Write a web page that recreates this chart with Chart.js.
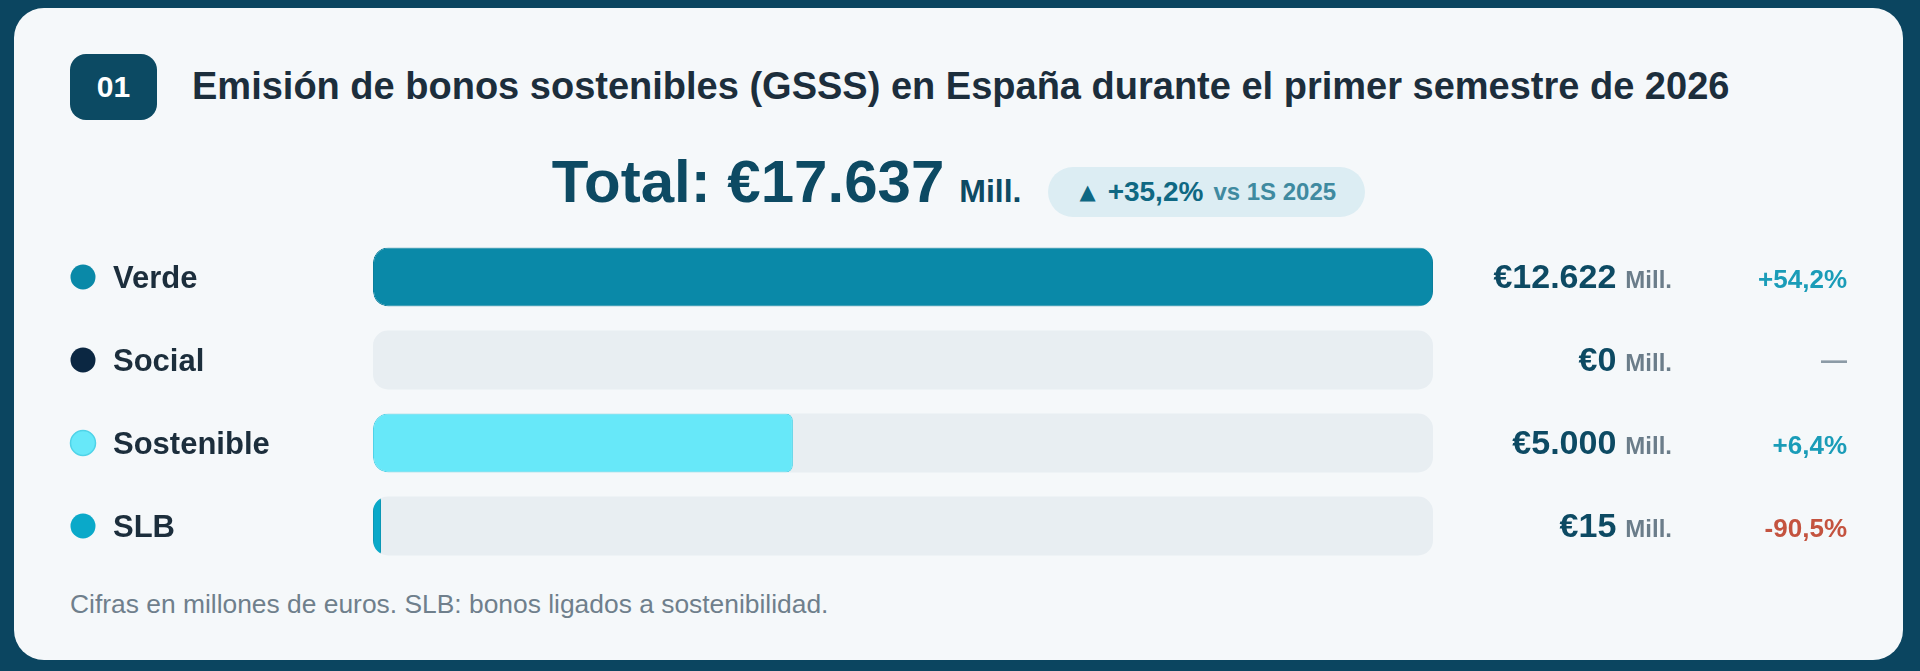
<!DOCTYPE html>
<html lang="es">
<head>
<meta charset="utf-8">
<title>Emisión de bonos sostenibles (GSSS)</title>
<script src="https://cdn.jsdelivr.net/npm/chart.js@4.4.1/dist/chart.umd.min.js"></script>
<style>
  html, body { margin: 0; padding: 0; }
  body {
    width: 1920px; height: 671px; overflow: hidden; position: relative;
    background: #0b4560;
    font-family: "Liberation Sans", Arial, sans-serif;
  }
  .card {
    position: absolute; left: 14px; top: 8px; width: 1889px; height: 652px;
    background: #f5f8fa; border-radius: 30px;
  }
  .badge {
    position: absolute; left: 70px; top: 54px; width: 87px; height: 66px;
    background: #0c4a63; border-radius: 16px; color: #fff;
    font-weight: bold; font-size: 30px; line-height: 66px; text-align: center;
  }
  .title {
    position: absolute; left: 192px; top: 63px; line-height: 46px;
    font-size: 38px; font-weight: bold; color: #1c2e3c; white-space: nowrap;
  }
  .totalRow {
    position: absolute; left: 14px; top: 150px; width: 1889px;
    display: flex; justify-content: center; align-items: baseline;
  }
  .total { font-size: 60px; line-height: 64px; font-weight: bold; color: #0d4a63; }
  .total small { font-size: 32px; margin-left: 15px; }
  .pill {
    display: inline-flex; align-items: center; height: 50px; margin-left: 27px;
    padding: 0 29px 0 31px; border-radius: 25px; background: #dcedf3;
    font-weight: bold; color: #0f6883; position: relative; top: -3px;
  }
  .pill .tri { font-size: 21px; line-height: 32px; margin-right: 12px; font-family: "DejaVu Sans", sans-serif; }
  .pill .pct { font-size: 28px; line-height: 32px; }
  .pill .vs { font-size: 24px; line-height: 32px; margin-left: 10px; color: #3f8aa0; }
  .note {
    position: absolute; left: 70px; top: 589px; font-size: 26.4px; line-height: 30px;
    color: #6f7f8c; white-space: nowrap;
  }
  #rows { position: absolute; left: 0; top: 0; }
</style>
</head>
<body>
<div class="card"></div>
<div class="badge">01</div>
<div class="title">Emisión de bonos sostenibles (GSSS) en España durante el primer semestre de 2026</div>
<div class="totalRow">
  <span class="total" id="totalText"></span>
  <span class="pill"><span class="tri">▲</span><span class="pct" id="totalChange"></span><span class="vs" id="vsLabel"></span></span>
</div>
<div class="note">Cifras en millones de euros. SLB: bonos ligados a sostenibilidad.</div>
<canvas id="rows" width="1920" height="671"></canvas>

<script>
const categories = ["Verde", "Social", "Sostenible", "SLB"];
const values = [12622, 0, 5000, 15];          // millones de euros
const changes = [54.2, null, 6.4, -90.5];      // % vs 1S 2025
const totalChange = 35.2;
const compareLabel = "vs 1S 2025";
const unit = "Mill.";
const colors = ["#0a89a8", "#0b2742", "#67e8f9", "#0aa9c9"];
const borders = ["#0a7f9c", "#0b2742", "#4fd3e8", "#0a97b5"];

function fmtNum(n) {
  return String(n).replace(/\B(?=(\d{3})+(?!\d))/g, ".");
}
function fmtPct(v) {
  if (v === null) return "—";
  return (v > 0 ? "+" : "") + v.toFixed(1).replace(".", ",") + "%";
}

const total = values.reduce((a, b) => a + b, 0);
document.getElementById("totalText").innerHTML = "Total: €" + fmtNum(total) + "<small>" + unit + "</small>";
document.getElementById("totalChange").textContent = fmtPct(totalChange);
document.getElementById("vsLabel").textContent = compareLabel;

const FONT = '"Liberation Sans", Arial, sans-serif';

function trackPath(ctx, el, area) {
  const h = el.height;
  ctx.roundRect(area.left, el.y - h / 2, area.right - area.left, h, 15);
}

// grey tracks behind each bar, and clip the bars to them
const trackPlugin = {
  id: "tracks",
  beforeDatasetsDraw(chart) {
    const ctx = chart.ctx;
    const area = chart.chartArea;
    const meta = chart.getDatasetMeta(0);
    ctx.save();
    ctx.fillStyle = "#e8eef2";
    meta.data.forEach((el) => {
      ctx.beginPath();
      trackPath(ctx, el, area);
      ctx.fill();
    });
    ctx.beginPath();
    meta.data.forEach((el) => trackPath(ctx, el, area));
    ctx.clip();
  },
  afterDatasetsDraw(chart) {
    chart.ctx.restore();
  }
};

// labels, dots, values and changes on both sides of the bars
const sidePlugin = {
  id: "sides",
  afterDraw(chart) {
    const ctx = chart.ctx;
    const y = chart.scales.y;
    ctx.save();
    categories.forEach((name, i) => {
      const cy = y.getPixelForValue(i);
      const base = cy + 11;

      ctx.beginPath();
      ctx.arc(83, cy, 12.5, 0, Math.PI * 2);
      ctx.fillStyle = colors[i];
      ctx.fill();
      if (i === 2) {
        ctx.lineWidth = 1.5;
        ctx.strokeStyle = "#4fd3e8";
        ctx.stroke();
      }

      ctx.textBaseline = "alphabetic";
      ctx.textAlign = "left";
      ctx.font = "bold 31px " + FONT;
      ctx.fillStyle = "#1c2e3c";
      ctx.fillText(name, 113, base);

      ctx.textAlign = "right";
      ctx.font = "bold 24px " + FONT;
      ctx.fillStyle = "#6b7d8a";
      const unitX = 1672;
      ctx.fillText(unit, unitX, base);
      const uw = ctx.measureText(unit).width;
      ctx.font = "bold 34px " + FONT;
      ctx.fillStyle = "#0d4a63";
      ctx.fillText("€" + fmtNum(values[i]), unitX - uw - 9, base);

      const c = changes[i];
      ctx.font = "bold 26px " + FONT;
      ctx.fillStyle = c === null ? "#8c9ba6" : (c < 0 ? "#c4533f" : "#1a9cb8");
      ctx.fillText(fmtPct(c), 1847, c === null ? base - 2 : base);
    });
    ctx.restore();
  }
};

new Chart(document.getElementById("rows"), {
  type: "bar",
  data: {
    labels: categories,
    datasets: [{
      data: values.map((v) => (v === 0 ? null : v)),
      backgroundColor: colors,
      borderColor: borders,
      borderWidth: 1,
      borderSkipped: false,
      borderRadius: { topLeft: 15, bottomLeft: 15, topRight: 7, bottomRight: 7 },
      minBarLength: 8,
      barPercentage: 0.71,
      categoryPercentage: 1
    }]
  },
  options: {
    indexAxis: "y",
    responsive: false,
    animation: false,
    devicePixelRatio: 1,
    layout: { padding: { left: 373, right: 487, top: 235.5, bottom: 103.5 } },
    scales: {
      x: { display: false, min: 0, max: Math.max(...values), grid: { display: false } },
      y: { display: false, grid: { display: false } }
    },
    plugins: { legend: { display: false }, tooltip: { enabled: false } }
  },
  plugins: [trackPlugin, sidePlugin]
});
</script>
</body>
</html>
